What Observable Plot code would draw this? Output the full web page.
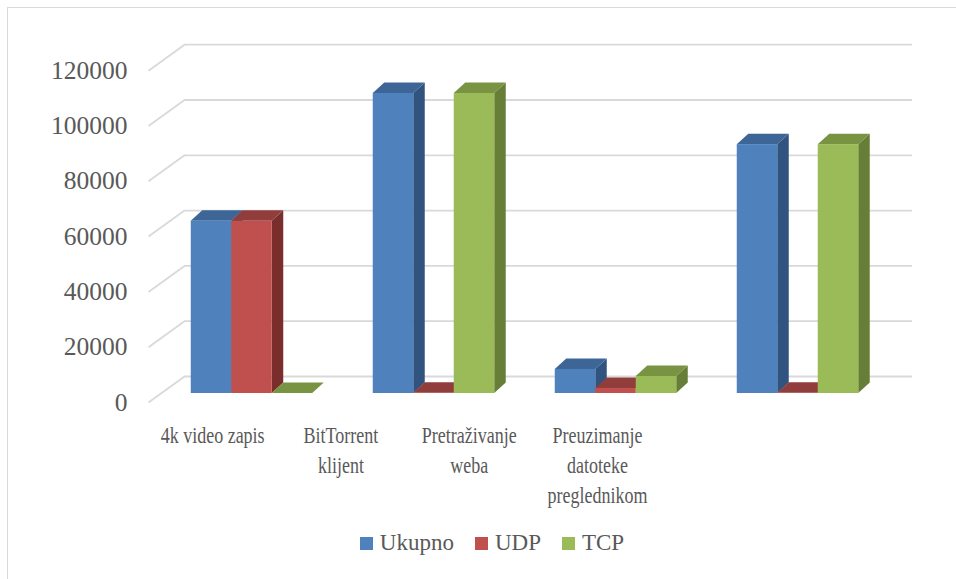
<!DOCTYPE html>
<html>
<head>
<meta charset="utf-8">
<script src="https://cdn.jsdelivr.net/npm/d3@7"></script>
<script src="https://cdn.jsdelivr.net/npm/@observablehq/plot@0.6"></script>
<style>
  html, body { margin: 0; padding: 0; background: #fff; }
  body { width: 956px; height: 579px; overflow: hidden; position: relative; font-family: "Liberation Serif", serif; }
  #frame { position: absolute; left: 7px; top: 7px; width: 1000px; height: 1000px;
           border-left: 1.5px solid #d9d9d9; border-top: 1.5px solid #d9d9d9; box-sizing: border-box; }
  #chart { position: absolute; left: 0; top: 0; }
  #legend { position: absolute; left: 0; top: 530px; width: 956px; box-sizing: border-box; padding-left: 28px;
            display: flex; justify-content: center; align-items: center; gap: 21px;
            font-family: "Liberation Serif", serif; font-size: 23px; color: #595959; }
  .item { display: flex; align-items: center; }
  .sw { width: 13px; height: 13px; margin-right: 7px; }
</style>
</head>
<body>
<div id="frame"></div>
<div id="chart"></div>
<div id="legend"></div>
<script>
// ---- data ----
const categories = ["4k video zapis", "BitTorrent\nklijent", "Pretraživanje\nweba", "Preuzimanje\ndatoteke\npreglednikom"];
const seriesNames = ["Ukupno", "UDP", "TCP"];
const ukupno = [62300, 108500, 8700, 90000];
const udp    = [62300, 100, 1800, 100];
const tcp    = [0, 108500, 6150, 90000];
const yTicks = [0, 20000, 40000, 60000, 80000, 100000, 120000];

// ---- styles ----
const frontColors = ["#4F81BD", "#C0504D", "#9BBB59"];
const topColors   = ["#3D6697", "#913D3B", "#789442"];
const sideColors  = ["#30537F", "#7A2E2C", "#667E37"];
const gridColor = "#d9d9d9";
const textColor = "#595959";

// ---- layout ----
const W = 956, H = 520;
const mL = 160.5, mR = 67.5, mT = 61.2, mB = 127;
const yMax = 120000;
const kx = 4 / (W - mL - mR);       // data units per px (x)
const ky = yMax / (H - mT - mB);    // data units per px (y)
const barW = 0.2225;
const depthX = 11.5 * kx, depthY = 10.5 * ky;       // bar depth
const frontDX = -12.5, frontDY = 9;                  // front floor edge, px
const backDX = 23.5, backDY = -17;                   // back wall, px
const labelBand = 128.3 * kx;
const labelTop = 32, labelLine = 30;

const seriesValues = [ukupno, udp, tcp];
const bars = [];
categories.forEach((c, i) => {
  seriesValues.forEach((vals, s) => {
    const x1 = i + (1 - 3 * barW) / 2 + s * barW;
    bars.push({id: i + "-" + s, s, x1, x2: x1 + barW, v: vals[i]});
  });
});

const marks = [];
// grid: back wall lines + floor diagonals
marks.push(Plot.ruleY(yTicks, {y: d => d, x1: 0, x2: 4, dx: backDX, dy: backDY, stroke: gridColor, strokeWidth: 1.8}));
marks.push(Plot.link(yTicks, {
  x1: frontDX * kx, y1: d => d - frontDY * ky,
  x2: backDX * kx, y2: d => d - backDY * ky,
  stroke: gridColor, strokeWidth: 1.8
}));

// side faces
seriesNames.forEach((name, s) => {
  const pts = [];
  bars.filter(b => b.s === s).forEach(b => {
    pts.push({id: b.id, x: b.x2, y1: 0, y2: b.v});
    pts.push({id: b.id, x: b.x2 + depthX, y1: depthY, y2: b.v + depthY});
  });
  marks.push(Plot.areaY(pts, {x: "x", y1: "y1", y2: "y2", z: "id", fill: sideColors[s]}));
});
// top faces
seriesNames.forEach((name, s) => {
  const pts = [];
  bars.filter(b => b.s === s).forEach(b => {
    pts.push({id: b.id, y: b.v, x1: b.x1, x2: b.x2});
    pts.push({id: b.id, y: b.v + depthY, x1: b.x1 + depthX, x2: b.x2 + depthX});
  });
  marks.push(Plot.areaX(pts, {y: "y", x1: "x1", x2: "x2", z: "id", fill: topColors[s]}));
});
// front faces
seriesNames.forEach((name, s) => {
  marks.push(Plot.rect(bars.filter(b => b.s === s), {x1: "x1", x2: "x2", y1: 0, y2: "v", fill: frontColors[s]}));
});

// y tick labels (front edge)
marks.push(Plot.text(yTicks, {
  x: frontDX * kx, y: d => d, dx: -21, dy: frontDY, text: d => String(d),
  textAnchor: "end", fontSize: 25.5, fill: textColor
}));
// category labels, one mark per line
const labelLines = [];
categories.forEach((c, i) => c.split("\n").forEach((t, k) => labelLines.push({i, k, t})));
const nLines = d3.max(labelLines, d => d.k) + 1;
for (let k = 0; k < nLines; k++) {
  marks.push(Plot.text(labelLines.filter(d => d.k === k), {
    x: d => frontDX * kx + (d.i + 0.5) * labelBand, y: 0, dy: labelTop + k * labelLine, text: "t",
    textAnchor: "middle", lineAnchor: "top", fontSize: 24, fill: textColor
  }));
}

const chart = Plot.plot({
  width: W, height: H,
  marginLeft: mL, marginRight: mR, marginTop: mT, marginBottom: mB,
  x: {type: "linear", domain: [0, 4], axis: null},
  y: {domain: [0, yMax], axis: null},
  style: {background: "transparent", overflow: "visible", fontFamily: "Liberation Serif, serif"},
  marks
});
document.getElementById("chart").appendChild(chart);

// condense category labels horizontally (the last nLines text groups)
const textGroups = Array.from(chart.querySelectorAll('g[aria-label="text"]'));
textGroups.slice(textGroups.length - nLines).forEach(g => {
  g.querySelectorAll("text").forEach(t => {
    const tr = t.getAttribute("transform");
    if (tr) t.setAttribute("transform", tr + " scale(0.75,1)");
    else {
      const x = +t.getAttribute("x") || 0;
      t.setAttribute("transform", `translate(${x},0) scale(0.75,1) translate(${-x},0)`);
    }
  });
});

// legend
const legend = document.getElementById("legend");
seriesNames.forEach((name, s) => {
  const it = document.createElement("div");
  it.className = "item";
  const sw = document.createElement("div");
  sw.className = "sw";
  sw.style.background = frontColors[s];
  const tx = document.createElement("span");
  tx.textContent = name;
  it.appendChild(sw); it.appendChild(tx);
  legend.appendChild(it);
});
</script>
</body>
</html>
